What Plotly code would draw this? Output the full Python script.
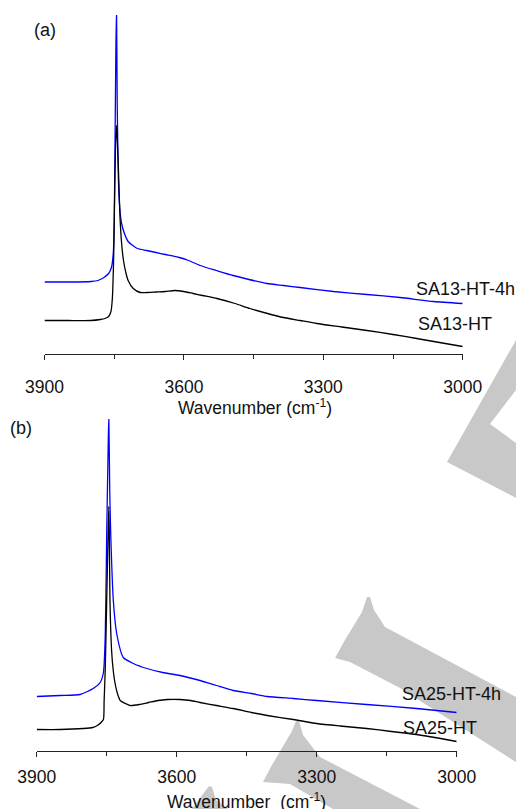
import plotly.graph_objects as go

# ---------------- data (arbitrary absorbance units, offset spectra) ----------------
# Panel (a)
wn_a_4h = [3900, 3850, 3800, 3785, 3772, 3762, 3756, 3752, 3750, 3748, 3746.5, 3745,
           3743.5, 3741, 3738, 3734, 3728, 3720, 3710, 3700, 3680, 3660, 3640, 3610,
           3590, 3565, 3530, 3494, 3460, 3421, 3385, 3350, 3278, 3206, 3135, 3063, 3000]
ab_a_4h = [0.715, 0.715, 0.72, 0.73, 0.76, 0.80, 0.86, 1.00, 1.30, 2.20, 3.00, 3.45,
           2.50, 1.75, 1.45, 1.30, 1.20, 1.12, 1.08, 1.05, 1.03, 1.01, 0.99, 0.96,
           0.93, 0.88, 0.83, 0.78, 0.74, 0.70, 0.68, 0.66, 0.62, 0.59, 0.56, 0.52, 0.50]

wn_a_ht = [3900, 3850, 3800, 3780, 3770, 3762, 3757, 3754, 3751, 3749, 3747, 3745,
           3743, 3741, 3737.5, 3734, 3730, 3725, 3720, 3709, 3694, 3680, 3660, 3640,
           3620, 3600, 3580, 3560, 3529, 3490, 3458, 3420, 3386, 3350, 3314, 3260,
           3206, 3150, 3099, 3050, 3000]
ab_a_ht = [0.33, 0.33, 0.33, 0.34, 0.35, 0.37, 0.42, 0.55, 1.00, 1.60, 2.10, 2.28,
           2.10, 1.86, 1.36, 1.10, 0.93, 0.81, 0.73, 0.65, 0.61, 0.61, 0.615, 0.62,
           0.63, 0.62, 0.60, 0.58, 0.55, 0.50, 0.45, 0.40, 0.36, 0.33, 0.30, 0.265,
           0.23, 0.19, 0.15, 0.11, 0.07]

# Panel (b)
wn_b_4h = [3900, 3850, 3807, 3779, 3764, 3757, 3753, 3750, 3747, 3745.5, 3743.5,
           3741.4, 3735.8, 3728.6, 3714.4, 3693, 3664, 3630, 3593, 3550, 3515, 3479,
           3440, 3406, 3350, 3300, 3193, 3086, 3000]
ab_b_4h = [0.54, 0.55, 0.56, 0.62, 0.68, 0.78, 1.17, 2.17, 3.00, 3.35, 2.60,
           2.17, 1.50, 1.17, 0.93, 0.87, 0.82, 0.78, 0.75, 0.70, 0.65, 0.60,
           0.57, 0.54, 0.52, 0.50, 0.46, 0.42, 0.38]

wn_b_ht = [3900, 3850, 3800, 3780, 3770, 3762, 3757, 3755.5, 3753, 3750, 3747, 3745.5,
           3744.5, 3743, 3739.5, 3736, 3732, 3727, 3721, 3710, 3700, 3680, 3660, 3640,
           3620, 3593, 3570, 3550, 3515, 3479, 3440, 3406, 3350, 3300, 3250, 3193,
           3140, 3086, 3040, 3000]
ab_b_ht = [0.21, 0.21, 0.22, 0.23, 0.25, 0.28, 0.31, 0.50, 0.83, 1.50, 2.17, 2.44,
           2.20, 1.50, 1.00, 0.80, 0.67, 0.57, 0.50, 0.47, 0.45, 0.46, 0.48, 0.50,
           0.51, 0.51, 0.50, 0.48, 0.45, 0.42, 0.38, 0.35, 0.31, 0.27, 0.245, 0.22,
           0.19, 0.16, 0.125, 0.09]

tick_vals = [3900, 3600, 3300, 3000]
tick_text = ["3900", "3600", "3300", "3000"]
minor_vals = [3750, 3450, 3150]

labels_a = ["SA13-HT-4h", "SA13-HT"]
labels_b = ["SA25-HT-4h", "SA25-HT"]

# ---------------- figure ----------------
W, H = 516, 809
FONT = "Liberation Sans, Arial, sans-serif"
BLUE = "#0000ff"
BLACK = "#000000"
LINE_KW = dict(width=1.3, shape="spline", smoothing=0.6)


def px(x, y):
    return x / W, 1 - y / H


fig = go.Figure()
fig.add_trace(go.Scatter(x=wn_a_4h, y=ab_a_4h, mode="lines", line=dict(color=BLUE, **LINE_KW),
                         xaxis="x", yaxis="y", name=labels_a[0]))
fig.add_trace(go.Scatter(x=wn_a_ht, y=ab_a_ht, mode="lines", line=dict(color=BLACK, **LINE_KW),
                         xaxis="x", yaxis="y", name=labels_a[1]))
fig.add_trace(go.Scatter(x=wn_b_4h, y=ab_b_4h, mode="lines", line=dict(color=BLUE, **LINE_KW),
                         xaxis="x2", yaxis="y2", name=labels_b[0]))
fig.add_trace(go.Scatter(x=wn_b_ht, y=ab_b_ht, mode="lines", line=dict(color=BLACK, **LINE_KW),
                         xaxis="x2", yaxis="y2", name=labels_b[1]))

xa_common = dict(range=[3900, 3000], tickvals=tick_vals, ticktext=tick_text,
                 ticks="outside", ticklen=5, tickwidth=1, tickcolor="#222",
                 showline=True, linecolor="#222", linewidth=1,
                 showgrid=False, zeroline=False, automargin=False,
                 tickfont=dict(family=FONT, size=17.5, color="#111"),
                 minor=dict(tickvals=minor_vals, ticks="outside", ticklen=4,
                            tickwidth=1, tickcolor="#222", showgrid=False))

fig.update_layout(
    width=W, height=H, autosize=False,
    margin=dict(l=0, r=0, t=0, b=0, pad=0, autoexpand=False),
    paper_bgcolor="white", plot_bgcolor="rgba(0,0,0,0)", showlegend=False,
    xaxis=dict(domain=[44.5 / W, 462.7 / W], anchor="y", ticklabelstandoff=12, **xa_common),
    yaxis=dict(domain=[(H - 353.5) / H, (H - 15) / H], range=[0, 3.385], visible=False,
               anchor="x", automargin=False),
    xaxis2=dict(domain=[36.7 / W, 456.7 / W], anchor="y2", ticklabelstandoff=5, **xa_common),
    yaxis2=dict(domain=[(H - 750.5) / H, (H - 419) / H], range=[0, 3.315], visible=False,
                anchor="x2", automargin=False),
)

# watermark (background decoration)
WM = "#c8c8c8"
polys = [
    ([(516, 340), (447, 462), (516, 498)], WM),
    ([(516, 390), (490, 424), (516, 443)], "white"),
    ([(367, 597), (370, 597), (374, 610), (385, 627), (516, 697), (516, 762), (400, 688),
      (350, 662), (335, 658), (345, 640), (362, 612)], WM),
    ([(296, 721), (299, 721), (303, 735), (320, 757), (420, 809), (333, 809), (290, 784),
      (263, 782), (272, 765), (292, 731)], WM),
    ([(209, 786), (212, 787), (216, 800), (228, 809), (192, 809)], WM),
]
shapes = []
for pts, col in polys:
    path = "M " + " L ".join(f"{px(x, y)[0]:.5f},{px(x, y)[1]:.5f}" for x, y in pts) + " Z"
    shapes.append(dict(type="path", path=path, xref="paper", yref="paper",
                       fillcolor=col, line=dict(width=0), layer="below"))
fig.update_layout(shapes=shapes)


def text(x, y, s, size=18, xanchor="left"):
    fx, fy = px(x, y)
    fig.add_annotation(x=fx, y=fy, xref="paper", yref="paper", text=s, showarrow=False,
                       xanchor=xanchor, yanchor="middle",
                       font=dict(family=FONT, size=size, color="#111"))


text(44.5, 30, "(a)", xanchor="center")
text(21, 428, "(b)", xanchor="center")
text(414, 289, labels_a[0])
text(416, 324, labels_a[1])
text(400, 694, labels_b[0])
text(401, 728, labels_b[1])
text(255, 407, "Wavenumber (cm<sup>-1</sup>)", size=17.5, xanchor="center")
text(246.7, 801, "Wavenumber\u00a0 (cm<sup>-1</sup>)", size=17.5, xanchor="center")

fig.write_html("out.html", config={"responsive": False})
